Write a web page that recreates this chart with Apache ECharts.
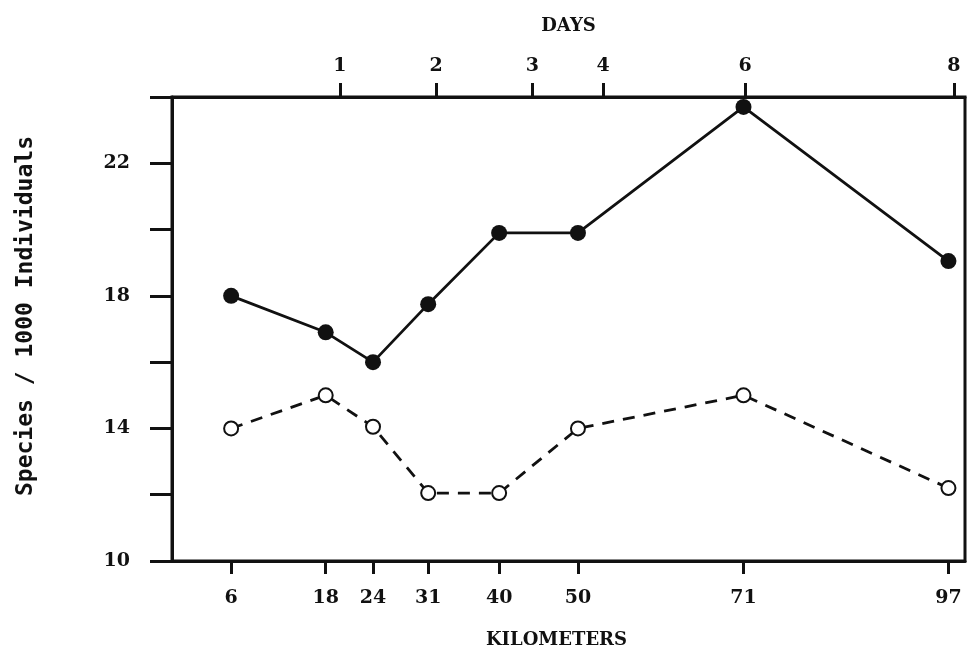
<!DOCTYPE html>
<html>
<head>
<meta charset="utf-8">
<script src="https://cdn.jsdelivr.net/npm/echarts@6/dist/echarts.min.js"></script>
<style>
  html, body { margin: 0; padding: 0; background: #fff; }
  #chart { width: 972px; height: 656px; }
</style>
</head>
<body>
<div id="chart"></div>
<script>
// distance along the route (km) and the two series
const kmValues = [6, 18, 24, 31, 40, 50, 71, 97]
const filledValues = [18, 16.9, 16.0, 17.75, 19.9, 19.9, 23.7, 19.05]
const openValues = [14, 15, 14.05, 12.05, 12.05, 14, 15, 12.2]
// top axis: days, placed at the km they correspond to
const dayLabels = ['1', '2', '3', '4', '6', '8']
const dayKm = [19.8, 32, 44.2, 53.2, 71.2, 97.7]
const yLabels = [10, 14, 18, 22]

const tickFont = { fontFamily: 'DejaVu Serif', fontWeight: 'bold', fontSize: 19, color: '#111' }

const myChart = echarts.init(document.getElementById('chart'), null, { renderer: 'canvas' })
const option = {
  backgroundColor: '#fff',
  animation: false,
  grid: { left: 172, right: 7, top: 97, bottom: 95, show: true, borderColor: '#111', borderWidth: 3 },
  xAxis: [
    {
      type: 'value',
      position: 'bottom',
      min: -1.5,
      max: 99.1,
      name: 'KILOMETERS',
      nameLocation: 'middle',
      nameGap: 70,
      nameTextStyle: Object.assign({}, tickFont, { fontSize: 18, padding: [0, 24, 0, 0] }),
      axisLine: { onZero: false, lineStyle: { color: '#111', width: 3 } },
      axisTick: { show: true, inside: false, length: 13, lineStyle: { width: 3, color: '#111' }, customValues: kmValues },
      axisLabel: Object.assign({}, tickFont, { margin: 28, customValues: kmValues }),
      splitLine: { show: false }
    },
    {
      type: 'value',
      position: 'top',
      min: -1.5,
      max: 99.1,
      name: 'DAYS',
      nameLocation: 'middle',
      nameGap: 62,
      nameTextStyle: Object.assign({}, tickFont, { fontSize: 18 }),
      axisLine: { onZero: false, lineStyle: { color: '#111', width: 3 } },
      axisTick: { show: true, inside: false, length: 14, lineStyle: { width: 3, color: '#111' }, customValues: dayKm },
      axisLabel: Object.assign({}, tickFont, {
        margin: 21,
        customValues: dayKm,
        formatter: function (v) {
          const i = dayKm.indexOf(v)
          return i >= 0 ? dayLabels[i] : ''
        }
      }),
      splitLine: { show: false }
    }
  ],
  yAxis: {
    type: 'value',
    min: 10,
    max: 24,
    interval: 2,
    name: 'Species / 1000 Individuals',
    nameLocation: 'middle',
    nameGap: 134,
    nameTextStyle: { fontFamily: 'DejaVu Sans Mono', fontWeight: 'bold', fontSize: 23, color: '#111', padding: [0, 0, 0, 26] },
    axisLine: { onZero: false, lineStyle: { color: '#111', width: 3 } },
    axisTick: { show: true, inside: false, length: 22, lineStyle: { width: 3, color: '#111' } },
    axisLabel: Object.assign({}, tickFont, {
      margin: 42,
      padding: [0, 0, 12, 0],
      formatter: function (v) { return yLabels.indexOf(v) >= 0 ? String(v) : '' }
    }),
    splitLine: { show: false }
  },
  series: [
    {
      type: 'line',
      xAxisIndex: 0,
      data: kmValues.map((k, i) => [k, filledValues[i]]),
      symbol: 'circle',
      symbolSize: 16,
      itemStyle: { color: '#111' },
      lineStyle: { color: '#111', width: 2.8 },
      z: 3
    },
    {
      type: 'line',
      xAxisIndex: 0,
      data: kmValues.map((k, i) => [k, openValues[i]]),
      symbol: 'emptyCircle',
      symbolSize: 14,
      showAllSymbol: true,
      itemStyle: { color: '#111', borderColor: '#111', borderWidth: 2.8 },
      lineStyle: { color: '#111', width: 2.8, type: [12, 9] },
      z: 3
    }
  ]
}
myChart.setOption(option)
</script>
</body>
</html>
